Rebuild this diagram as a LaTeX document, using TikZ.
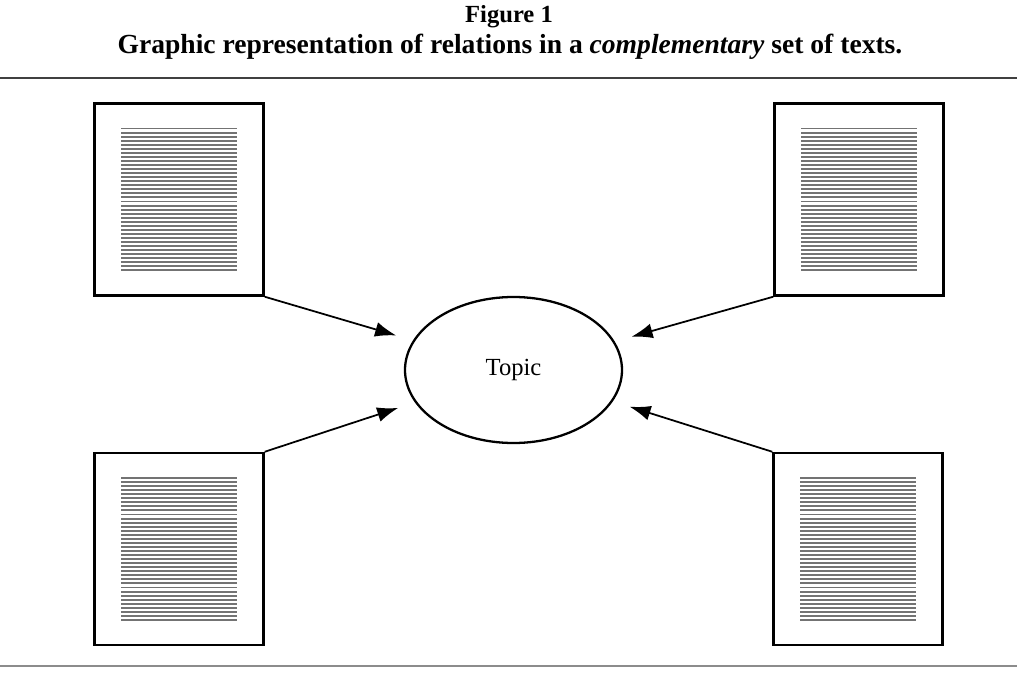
\documentclass[tikz,border=0pt]{standalone}
\usepackage{fontspec}
\setmainfont{Liberation Serif}
\usepackage{tikz}
\usetikzlibrary{arrows.meta, positioning, shapes.geometric, calc}

\begin{document}
\begin{tikzpicture}[
    doc/.style={draw, line width=1.4pt, minimum width=3.38cm, minimum height=3.84cm, inner sep=0pt},
    txtline/.style={black!55, line width=1.1pt},
    arr/.style={-{Latex[length=12pt, width=8.5pt]}, line width=1pt, shorten >=0.35cm}
]
    \useasboundingbox (0,0) rectangle (20.34,13.44);

    % Heading
    \node[font=\fontsize{14}{17}\selectfont\bfseries] (title) at (10.18,13.1) {Figure 1};
    \node[font=\fontsize{15.7}{18}\selectfont\bfseries] (caption) at (10.2,12.5)
        {Graphic representation of relations in a \textit{complementary} set of texts.};
    \draw[line width=1pt, black!75] (0,11.88) -- (20.34,11.88);
    \draw[line width=1.4pt, black!45] (0,0.12) -- (20.34,0.12);

    % Topic in the middle
    \node[ellipse, draw, line width=1.3pt, minimum width=4.34cm, minimum height=2.92cm,
          font=\fontsize{14}{16}\selectfont] (topic) at (10.27,6.04) {Topic};

    % The four texts
    \node[doc] (tl) at (3.58,9.45) {};
    \node[doc] (tr) at (17.18,9.45) {};
    \node[doc] (bl) at (3.58,2.46) {};
    \node[doc] (br) at (17.16,2.46) {};

    % lines of print
    \foreach \n in {tl,tr,bl,br} {
        \foreach \i in {0,...,35} {
            \draw[txtline] ($(\n.center)+(-1.16,1.42-\i*0.0811)$) -- ++(2.32,0);
        }
    }

    % Arrows to the topic
    \draw[arr] (tl.south east) -- (topic);
    \draw[arr] (tr.south west) -- (topic);
    \draw[arr] (bl.north east) -- (topic);
    \draw[arr] (br.north west) -- (topic);
\end{tikzpicture}
\end{document}
